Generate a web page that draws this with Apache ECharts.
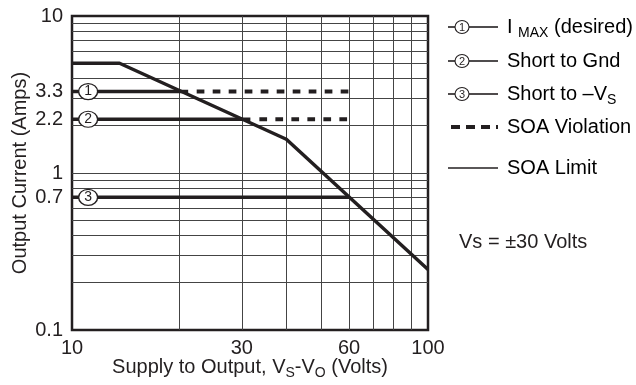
<!DOCTYPE html>
<html>
<head>
<meta charset="utf-8">
<script src="https://cdn.jsdelivr.net/npm/echarts@6/dist/echarts.min.js"></script>
<style>
html,body{margin:0;padding:0;background:#fff;}
#chart{width:636px;height:385px;}
</style>
</head>
<body>
<div id="chart"></div>
<script>
// ---- data ----
const xTickValues = [10, 30, 60, 100];
const yTickValues = [0.1, 0.7, 1, 2.2, 3.3, 10];
const yTickLabels = ['0.1', '0.7', '1', '2.2', '3.3', '10'];
const xGridValues = [20, 30, 40, 50, 60, 70, 80, 90];
const yGridValues = [0.2, 0.3, 0.4, 0.5, 0.6, 0.7, 0.8, 0.9, 1, 2, 3, 4, 5, 6, 7, 8, 9];
const soaVolts = [10, 13.6, 40, 100];
const soaAmps = [5, 5, 1.64, 0.243];
const caseLabels = ['1', '2', '3'];
const caseCurrent = [3.3, 2.2, 0.7];
const caseSolidEnd = [21.2, 31.7, 60];
const caseDashStart = [22.4, 33.6, null];
const caseDashEnd = [60, 60, null];
const markerVolts = 11.1;
const legendLabels = ['{a|I }{s|MAX}{a| (desired)}', '{a|Short to Gnd}', '{a|Short to –V}{s|S}', '{a|SOA Violation}', '{a|SOA Limit}'];
const noteText = 'Vs = ±30 Volts';

// ---- styles ----
const INK = '#231f20';
const FONT = '"Liberation Sans", Arial, Helvetica, sans-serif';
const richText = {
  a: { fontSize: 20, fontFamily: FONT, color: INK, lineHeight: 26, verticalAlign: 'middle' },
  s: { fontSize: 14, fontFamily: FONT, color: INK, lineHeight: 14, verticalAlign: 'bottom', padding: [0, 0, 0, 0] }
};

const series = [];
// grid lines via the axes' scales
series.push({
  type: 'line', data: [], z: 1, silent: true,
  markLine: {
    z: 1, silent: true, symbol: ['none', 'none'], animation: false,
    label: { show: false },
    lineStyle: { color: '#444', width: 1, type: 'solid' },
    emphasis: { disabled: true },
    data: xGridValues.map(v => ({ xAxis: v })).concat(yGridValues.map(v => ({ yAxis: v })))
  }
});
// SOA limit
series.push({
  type: 'line', z: 6, symbol: 'none', silent: true,
  data: soaVolts.map((v, i) => [v, soaAmps[i]]),
  lineStyle: { color: INK, width: 3.5 }
});
// case lines
caseCurrent.forEach((c, i) => {
  series.push({
    type: 'line', z: 5, symbol: 'none', silent: true,
    data: [[xTickValues[0], c], [caseSolidEnd[i], c]],
    lineStyle: { color: INK, width: 3.5 }
  });
  if (caseDashStart[i] != null) {
    series.push({
      type: 'line', z: 5, symbol: 'none', silent: true,
      data: [[caseDashStart[i], c], [caseDashEnd[i], c]],
      lineStyle: { color: INK, width: 4, type: [7.7, 8.3], cap: 'butt' }
    });
  }
});
// circled numbers
series.push({
  type: 'scatter', z: 8, silent: true,
  symbol: 'circle', symbolSize: [19, 16],
  data: caseCurrent.map(c => [markerVolts, c]),
  itemStyle: { color: '#fff', borderColor: INK, borderWidth: 1.3, opacity: 1 },
  label: {
    show: true, position: 'inside', formatter: p => caseLabels[p.dataIndex],
    fontSize: 14, fontFamily: FONT, color: INK
  }
});

// ---- legend (graphic) ----
const legendX0 = 448, legendX1 = 498, textX = 507;
const rowY = [27, 61, 94, 127, 168];
const graphic = [];
rowY.forEach((y, i) => {
  if (i < 3) {
    graphic.push({ type: 'line', shape: { x1: legendX0, y1: y, x2: 455, y2: y }, style: { stroke: INK, lineWidth: 1.6 } });
    graphic.push({ type: 'line', shape: { x1: 469, y1: y, x2: legendX1, y2: y }, style: { stroke: INK, lineWidth: 1.6 } });
    graphic.push({ type: 'ellipse', shape: { cx: 462, cy: y, rx: 7, ry: 6.5 }, style: { fill: '#fff', stroke: INK, lineWidth: 1.1 } });
    graphic.push({ type: 'text', x: 462, y: y + 0.5, style: { text: caseLabels[i], fontSize: 11, fontFamily: FONT, fill: INK, align: 'center', verticalAlign: 'middle' } });
  } else if (i === 3) {
    graphic.push({ type: 'line', shape: { x1: legendX0, y1: y, x2: legendX1, y2: y }, style: { stroke: INK, lineWidth: 4, lineDash: [9, 6], lineDashOffset: 12 } });
  } else {
    graphic.push({ type: 'line', shape: { x1: legendX0, y1: y, x2: legendX1, y2: y }, style: { stroke: INK, lineWidth: 1.6 } });
  }
  graphic.push({ type: 'text', x: textX, y: y, style: { text: legendLabels[i], rich: richText, align: 'left', verticalAlign: 'middle' } });
});
graphic.push({ type: 'text', x: 459, y: 242, style: { text: noteText, fontSize: 20, fontFamily: FONT, fill: INK, align: 'left', verticalAlign: 'middle' } });

const chart = echarts.init(document.getElementById('chart'), null, { renderer: 'canvas' });
chart.setOption({
  animation: false,
  backgroundColor: '#fff',
  textStyle: { fontFamily: FONT },
  grid: { left: 72, right: 208, top: 16, bottom: 55, show: true, borderColor: INK, borderWidth: 2.5, backgroundColor: 'transparent', containLabel: false },
  xAxis: {
    type: 'log', logBase: 10, min: 10, max: 100,
    axisLine: { show: false }, axisTick: { show: false }, splitLine: { show: false }, minorSplitLine: { show: false },
    axisLabel: { customValues: xTickValues, fontSize: 20, color: INK, margin: 8, fontFamily: FONT, formatter: v => String(Math.round(v)), showMinLabel: true, showMaxLabel: true },
    name: '{a|Supply to Output, V}{s|S}{a|-V}{s|O}{a| (Volts)}',
    nameLocation: 'middle', nameGap: 24, nameMoveOverlap: false,
    nameTextStyle: { rich: richText }
  },
  yAxis: {
    type: 'log', logBase: 10, min: 0.1, max: 10,
    axisLine: { show: false }, axisTick: { show: false }, splitLine: { show: false }, minorSplitLine: { show: false },
    axisLabel: {
      customValues: yTickValues, fontSize: 20, color: INK, margin: 9, fontFamily: FONT, showMinLabel: true, showMaxLabel: true,
      formatter: v => {
        let best = 0, d = Infinity;
        yTickValues.forEach((t, i) => { const dd = Math.abs(Math.log(t) - Math.log(v)); if (dd < d) { d = dd; best = i; } });
        return yTickLabels[best];
      }
    },
    name: 'Output Current (Amps)', nameLocation: 'middle', nameRotate: 90, nameGap: 42, nameMoveOverlap: false,
    nameTextStyle: { fontSize: 20, color: INK, fontFamily: FONT }
  },
  series: series,
  graphic: graphic
});
</script>
</body>
</html>
